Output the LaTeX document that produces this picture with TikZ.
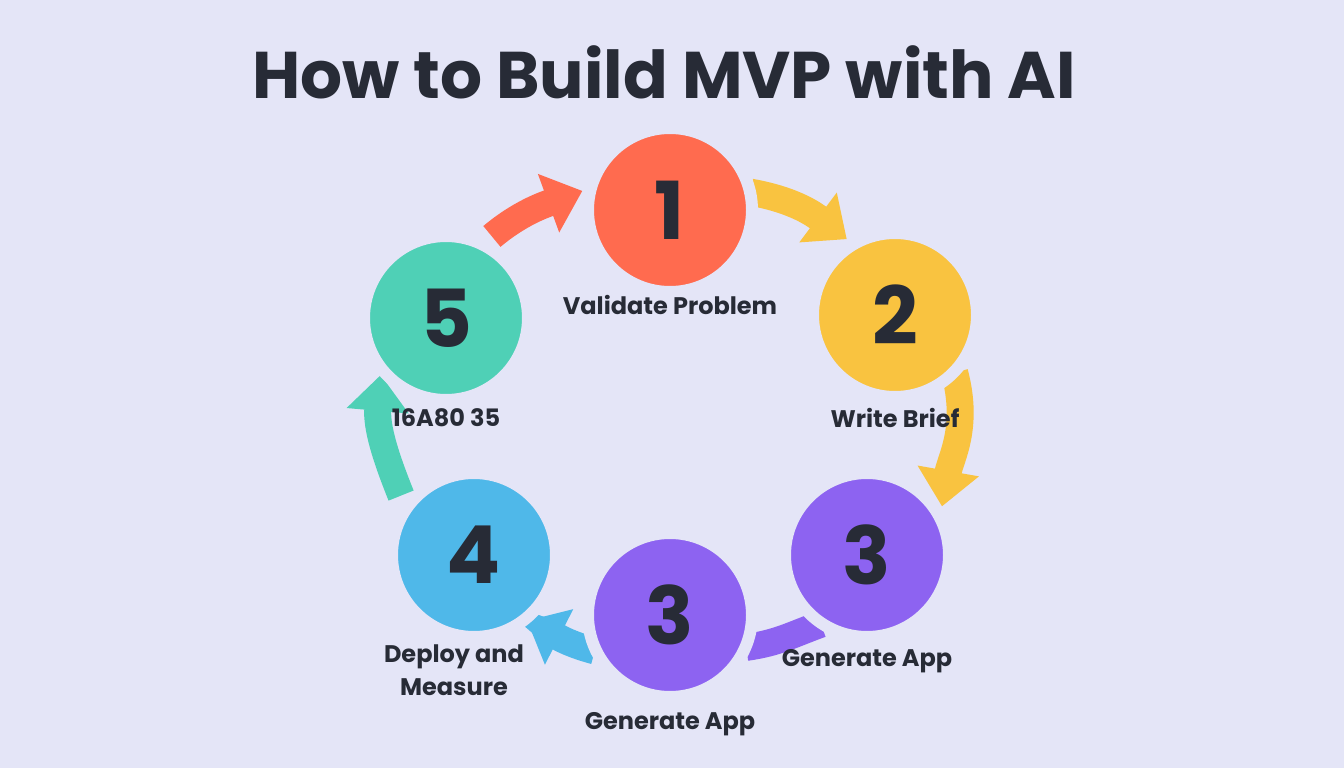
\documentclass[tikz,border=0pt]{standalone}
\usepackage{fontspec}
\setmainfont{Poppins}
\usetikzlibrary{positioning, arrows.meta}
\pgfdeclarelayer{back}
\pgfdeclarelayer{arrows}
\pgfsetlayers{back,arrows,main}
\definecolor{pagebg}{HTML}{E4E5F7}
\definecolor{inkdark}{HTML}{272B36}
\definecolor{stepone}{HTML}{FF6B4F}
\definecolor{steptwo}{HTML}{F9C340}
\definecolor{stepthree}{HTML}{8D63F1}
\definecolor{stepfour}{HTML}{4FB8E9}
\definecolor{stepfive}{HTML}{4FD0B6}

\begin{document}
\begin{tikzpicture}[x=1pt, y=1pt, >={Triangle[width=60pt, length=36pt]},
				disc/.style={circle, minimum size=164pt, inner sep=0pt, draw=pagebg, line width=12pt,
					text=inkdark, font=\fontsize{80}{80}\selectfont\bfseries},
				lbl/.style={inner sep=0pt, align=center, text=inkdark, font=\fontsize{24}{33}\selectfont\bfseries},
				band/.style={line width=27pt}]
				
				% --- 1. background and title ---
				\begin{pgfonlayer}{back}
					\fill[pagebg] (0,0) rectangle (1344,-768);
				\end{pgfonlayer}
				\useasboundingbox (0,0) rectangle (1344,-768);
				\node[text=inkdark, font=\fontsize{66}{66}\selectfont\bfseries] (title) at (664,-72) {How to Build MVP with AI};
				
				% --- 2. step discs ---
				\node[disc, fill=stepone]   (c1)  at (670,-210) {1};
				\node[disc, fill=steptwo]   (c2)  at (895,-315) {2};
				\node[disc, fill=stepthree] (c3r) at (867,-555) {3};
				\node[disc, fill=stepthree] (c3b) at (670,-615) {3};
				\node[disc, fill=stepfour]  (c4)  at (474,-555) {4};
				\node[disc, fill=stepfive]  (c5)  at (446,-318) {5};
				
				% --- 3. step labels ---
				\node[lbl, below=-3pt of c1]  (l1)  {Validate Problem};
				\node[lbl, below=5pt of c2] (l2)  {Write Brief};
				\node[lbl, below=6pt of c3r] (l3r) {Generate App};
				\node[lbl, below=9pt of c3b] (l3b) {Generate App};
				\node[lbl, below=2pt of c4, xshift=-20pt] (l4) {Deploy and\\Measure};
				\node[lbl, below=2pt of c5]  (l5)  {16A80 35};
				
				% --- 4. cycle arrows (under the discs) ---
				\begin{pgfonlayer}{arrows}
					\draw[band, ->, stepone, shorten <=6pt, shorten >=2pt] (c5.62) to[out=40, in=200] (c1.167);
					\draw[band, ->, steptwo, shorten <=-6pt, shorten >=2pt] (c1.11) to[out=-10, in=143] (c2.122);
					\draw[band, ->, steptwo, shorten <=-6pt, shorten >=2pt] (c2.-46) to[out=-75, in=80] (c3r.32);
					\draw[band, stepthree, shorten <=-6pt, shorten >=-6pt] (c3r.-126) to[out=200, in=8] (c3b.-21); % no tip, runs under disc 3
					\draw[band, ->, stepfour, shorten <=-6pt, shorten >=-4pt] (c3b.203) to[out=165, in=-27] (c4.-50);
					\draw[band, ->, stepfive, shorten <=7pt, shorten >=-2pt] (c4.143) to[out=112, in=265] (c5.222);
				\end{pgfonlayer}
				
			\end{tikzpicture}
\end{document}
